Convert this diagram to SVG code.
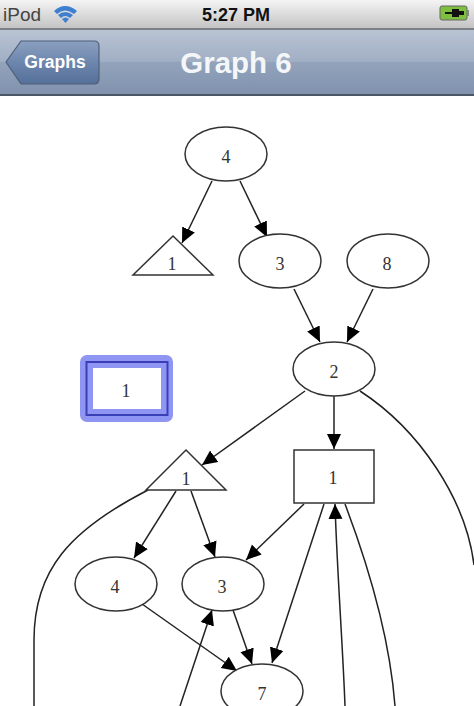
<svg xmlns="http://www.w3.org/2000/svg" width="474" height="706" viewBox="0 0 474 706">
<style>
.n{fill:#fff;stroke:#333;stroke-width:1.500}
.l{font-family:"Liberation Serif",serif;font-size:18px;fill:#333;text-anchor:middle}
.e{fill:none;stroke:#222;stroke-width:1.500;marker-end:url(#a)}
.p{fill:none;stroke:#222;stroke-width:1.500}
</style>
<defs>
<marker id="a" markerUnits="userSpaceOnUse" markerWidth="17" markerHeight="16" refX="15" refY="8" orient="auto"><path d="M0 1L15 8L0 15Z" fill="#000"/></marker>
<linearGradient id="s" x1="0" y1="0" x2="0" y2="1"><stop offset="0" stop-color="#f4f4f4"/><stop offset="1" stop-color="#c4c4c4"/></linearGradient>
<linearGradient id="b" x1="0" y1="0" x2="0" y2="1"><stop offset="0" stop-color="#b9c3d3"/><stop offset=".5" stop-color="#a0aec4"/><stop offset=".5" stop-color="#93a3bb"/><stop offset="1" stop-color="#8092ae"/></linearGradient>
<linearGradient id="k" x1="0" y1="0" x2="0" y2="1"><stop offset="0" stop-color="#8ba0c0"/><stop offset=".5" stop-color="#6c86ad"/><stop offset="1" stop-color="#557099"/></linearGradient>
</defs>
<rect width="474" height="706" fill="#fff"/>
<g id="statusbar">
<rect width="474" height="28" fill="url(#s)"/>
<rect y="28" width="474" height="2" fill="#7c7f85"/>
<text x="3" y="21" font-family="'Liberation Sans',sans-serif" font-size="19" fill="#444">iPod</text>
<path d="M54 11Q65 1 77 11L74 14Q65 7 57 14Z" fill="#3f7fd0"/>
<path d="M58 15Q65 9 73 15L70 18Q65 14 61 18Z" fill="#3f7fd0"/>
<path d="M62 19Q65.500 16 69 19L65.500 23Z" fill="#3f7fd0"/>
<text x="236" y="21" font-family="'Liberation Sans',sans-serif" font-size="18" font-weight="bold" fill="#111" text-anchor="middle">5:27 PM</text>
<rect x="440" y="6" width="27" height="14" rx="2" fill="#7fbf3f" stroke="#666"/>
<rect x="467" y="10" width="2" height="6" fill="#888"/>
<path d="M445 12H452V9H459V11H464V15H459V17H452V14H445Z" fill="#111"/>
</g>
<g id="navbar">
<rect y="30" width="474" height="64" fill="url(#b)"/>
<rect y="94" width="474" height="2" fill="#4a5566"/>
<path d="M6 62L21 41H94Q99 41 99 46V79Q99 84 94 84H21Z" fill="url(#k)" stroke="#4f5f78" stroke-width="1.200"/>
<text x="55" y="68" font-family="'Liberation Sans',sans-serif" font-size="17.500" font-weight="bold" fill="#fff" text-anchor="middle">Graphs</text>
<text x="236" y="73" font-family="'Liberation Sans',sans-serif" font-size="29.500" font-weight="bold" fill="#f4f6f8" text-anchor="middle">Graph 6</text>
</g>
<g id="connectors">
<path class="e" d="M212 181L182 243"/>
<path class="e" d="M240 181L267 237"/>
<path class="e" d="M294 289L320 342"/>
<path class="e" d="M373 289L347 342"/>
<path class="e" d="M305 391L202 465"/>
<path class="e" d="M334 396V449"/>
<path class="e" d="M176 491L134 558"/>
<path class="e" d="M191 491L215 557"/>
<path class="e" d="M304 504L246 560"/>
<path class="e" d="M324 504L272 663"/>
<path class="e" d="M233 610L252 664"/>
<path class="e" d="M142 604L237 671"/>
<path class="e" d="M180 706L212 610"/>
<path class="e" d="M345 706C343 650 337 570 335 504"/>
<path class="p" d="M345 504C370 570 390 640 395 706"/>
<path class="p" d="M148 490C70 530 34 570 34 640V706"/>
<path class="p" d="M360 391C420 430 466 500 474 565"/>
</g>
<g id="n4a"><ellipse class="n" cx="226" cy="154" rx="41" ry="27"/><text class="l" x="226" y="163">4</text></g>
<g id="t1a"><path class="n" d="M173 236L213 275H133Z"/><text class="l" x="172" y="270">1</text></g>
<g id="n3a"><ellipse class="n" cx="280" cy="261" rx="41" ry="27"/><text class="l" x="280" y="270">3</text></g>
<g id="n8"><ellipse class="n" cx="388" cy="261" rx="41" ry="27"/><text class="l" x="387" y="270">8</text></g>
<g id="n2"><ellipse class="n" cx="334" cy="369" rx="41" ry="27"/><text class="l" x="334" y="378">2</text></g>
<g id="selected">
<rect x="80" y="355" width="93" height="67" rx="7" fill="#8f95f2"/>
<rect x="86.500" y="362" width="81" height="53" fill="none" stroke="#3a3fb8" stroke-width="2"/>
<rect x="93" y="368" width="68" height="41" fill="#fff"/>
<text class="l" x="126" y="397">1</text>
</g>
<g id="t1b"><path class="n" d="M186 450L226 490H146Z"/><text class="l" x="186" y="485">1</text></g>
<g id="r1"><rect class="n" x="294" y="450" width="80" height="53"/><text class="l" x="333" y="484">1</text></g>
<g id="n4b"><ellipse class="n" cx="116" cy="584" rx="41" ry="27"/><text class="l" x="115" y="593">4</text></g>
<g id="n3b"><ellipse class="n" cx="223" cy="584" rx="41" ry="27"/><text class="l" x="222" y="593">3</text></g>
<g id="n7"><ellipse class="n" cx="262" cy="691" rx="41" ry="27"/><text class="l" x="262" y="700">7</text></g>
</svg>
